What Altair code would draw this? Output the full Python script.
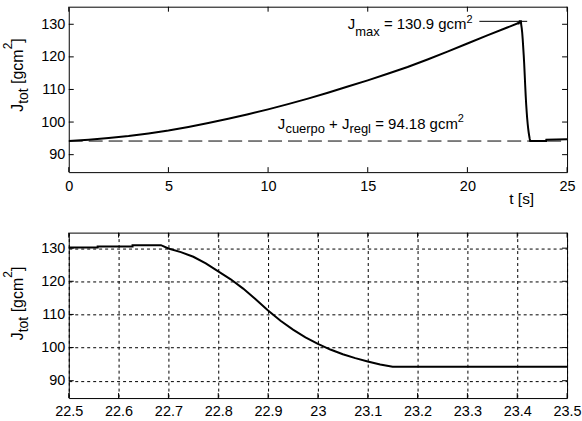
import altair as alt
import pandas as pd

# ---------------- data ----------------
t_vals = [0, 1, 2, 3, 4, 5, 6, 7, 8, 9, 10, 11, 12, 13, 14, 15, 16, 17, 18, 19, 20, 21, 22,
          22.5, 22.558, 22.558, 22.628, 22.628, 22.685,
          22.7, 22.725, 22.75, 22.775, 22.8, 22.825, 22.85, 22.875, 22.9, 22.925,
          22.95, 22.975, 23.0, 23.025, 23.05, 23.075, 23.1, 23.125, 23.15,
          23.95, 23.96, 25.0]
J_vals = [94.18, 94.6, 95.1, 95.7, 96.5, 97.4, 98.5, 99.7, 101.0, 102.4, 103.9, 105.5, 107.2,
          109.0, 110.9, 112.8, 114.8, 116.9, 119.2, 121.6, 124.1, 126.6, 129.0,
          130.2, 130.2, 130.5, 130.5, 130.9, 130.9,
          129.9, 128.8, 127.4, 125.4, 123.0, 120.6, 117.8, 114.6, 111.2, 108.1,
          105.4, 103.1, 101.1, 99.4, 98.0, 96.8, 95.8, 94.9, 94.18,
          94.18, 94.6, 94.7]

top_xticks = [0, 5, 10, 15, 20, 25]
bot_xticks = [22.5, 22.6, 22.7, 22.8, 22.9, 23.0, 23.1, 23.2, 23.3, 23.4, 23.5]
yticks = [90, 100, 110, 120, 130]

J_base = 94.18
J_max = 130.9
leader_t = [20.6, 23.0]

ann_text = ["J", "max", "= 130.9 gcm", "2",
            "J", "cuerpo", "+ J", "regl", "= 94.18 gcm", "2"]
ann_t = [14.0, 14.37, 15.81, 19.95,
         10.49, 10.87, 13.06, 14.08, 15.375, 19.52]
ann_J = [128.65, 126.35, 128.65, 130.28,
         98.02, 96.58, 98.02, 96.58, 98.02, 100.17]
ann_size = [15, 13, 15, 11, 15, 13, 15, 13, 15, 11]

# y-axis title pieces: text, font size, offset along text, offset across
ytitle = [("J", 16, 0, 0), ("tot", 14, 8, 4.7), ("[gcm", 16, 28.0, 0),
          ("2", 12, 62.7, -11), ("]", 16, 69.4, 0)]

FONT = "Liberation Sans"
W = 500
H = 166

df = pd.DataFrame({"t": t_vals, "J": J_vals, "i": list(range(len(t_vals)))})


def panel(xdomain, ydomain, xticks, xfmt, grid, xtitle, ytitle_y, extra=None):
    xs = alt.Scale(domain=xdomain, nice=False, zero=False)
    ys = alt.Scale(domain=ydomain, nice=False, zero=False)
    xaxis_kw = dict(values=xticks, format=xfmt, grid=grid, ticks=False, tickSize=0,
                    domain=False, labelFlush=False, labelOverlap=False, labelPadding=7,
                    labelFontSize=14.5, labelColor="black", labelFont=FONT,
                    gridColor="black", gridDash=[3, 3], gridOpacity=1, gridWidth=1)
    if xtitle:
        xaxis_kw.update(titleX=454, titleY=31, titleAlign="center",
                        titleBaseline="alphabetic", titleFontSize=15.5,
                        titleFontWeight="normal", titleColor="black", titleFont=FONT)
    xaxis = alt.Axis(**xaxis_kw)
    yaxis = alt.Axis(values=yticks, grid=grid, ticks=False, tickSize=0, domain=False,
                     labelFlush=False, labelOverlap=False, labelPadding=4,
                     labelFontSize=14.5, labelColor="black", labelFont=FONT,
                     gridColor="black", gridDash=[3, 3], gridOpacity=1, gridWidth=1)

    def X(field="t"):
        return alt.X(field + ":Q", scale=xs, axis=xaxis, title=xtitle if xtitle else None)

    def Y(field="J"):
        return alt.Y(field + ":Q", scale=ys, axis=yaxis, title=None)

    layers = []
    if extra is not None:
        layers += extra(X, Y)

    line = alt.Chart(df).mark_line(color="black", strokeWidth=2, clip=True).encode(
        x=X(), y=Y(), order=alt.Order("i:Q"),
    )
    layers.append(line)

    xt = pd.DataFrame({"t": xticks})
    yt = pd.DataFrame({"J": yticks})
    layers += [
        alt.Chart(xt).mark_rule(color="black", strokeWidth=1).encode(
            x=X(), y=alt.value(0), y2=alt.value(5)),
        alt.Chart(xt).mark_rule(color="black", strokeWidth=1).encode(
            x=X(), y=alt.value(H), y2=alt.value(H - 5)),
        alt.Chart(yt).mark_rule(color="black", strokeWidth=1).encode(
            y=Y(), x=alt.value(0), x2=alt.value(5)),
        alt.Chart(yt).mark_rule(color="black", strokeWidth=1).encode(
            y=Y(), x=alt.value(W), x2=alt.value(W - 5)),
    ]
    dummy = pd.DataFrame({"a": [0]})
    for txt, fs, along, across in ytitle:
        layers.append(
            alt.Chart(dummy).mark_text(angle=270, align="left", baseline="alphabetic",
                                       fontSize=fs, dx=along, dy=across, font=FONT,
                                       color="black").encode(
                x=alt.value(-45.5), y=alt.value(ytitle_y), text=alt.value(txt))
        )
    return alt.layer(*layers).properties(width=W, height=H)


def top_extra(X, Y):
    dash = pd.DataFrame({"t": [0], "t2": [25], "J": [J_base]})
    lead = pd.DataFrame({"t": [leader_t[0]], "t2": [leader_t[1]], "J": [J_max]})
    ann = pd.DataFrame({"t": ann_t, "J": ann_J, "text": ann_text, "size": ann_size})
    bound = pd.DataFrame({"a": [0]})
    return [
        alt.Chart(bound).mark_rule(strokeOpacity=0).encode(
            x=alt.value(-67.7), x2=alt.value(-60), y=alt.value(-5)),
        alt.Chart(dash).mark_rule(color="black", strokeWidth=1, strokeDash=[14, 6]).encode(
            x=X(), x2="t2:Q", y=Y()),
        alt.Chart(lead).mark_rule(color="black", strokeWidth=1).encode(
            x=X(), x2="t2:Q", y=Y()),
        alt.Chart(ann).mark_text(align="left", baseline="alphabetic", font=FONT,
                                 color="black").encode(
            x=X(), y=Y(), text="text:N",
            size=alt.Size("size:Q", scale=None, legend=None)),
    ]


top = panel([0, 25], [84.64, 135.39], top_xticks, "d", False, "t [s]", 105.5, top_extra)
bottom = panel([22.5, 23.5], [84.76, 134.69], bot_xticks, "~g", True, None, 108)

chart = alt.vconcat(top, bottom, spacing=60.7, bounds="flush", padding=0).configure_view(
    stroke="black", strokeWidth=1
)

chart.save("out.html", embed_options={"renderer": "svg", "actions": False})
